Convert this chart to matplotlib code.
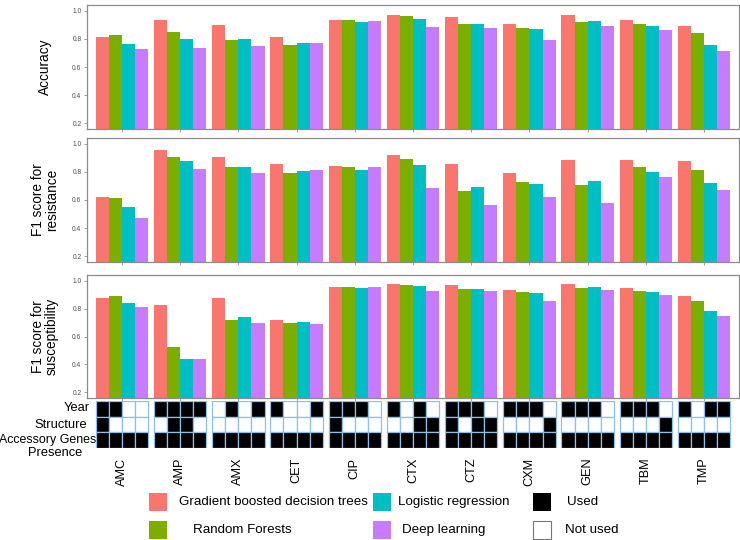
import matplotlib
matplotlib.use("Agg")
import matplotlib.pyplot as plt
from matplotlib.patches import Rectangle
import numpy as np

plt.rcParams['font.family'] = ['Liberation Sans', 'DejaVu Sans']

drugs = ['AMC', 'AMP', 'AMX', 'CET', 'CIP', 'CTX', 'CTZ', 'CXM', 'GEN', 'TBM', 'TMP']
models = ['Gradient boosted decision trees', 'Random Forests', 'Logistic regression', 'Deep learning']
colors = ['#F8766D', '#7CAE00', '#00BFC4', '#C77CFF']

acc_gb = [0.81, 0.936, 0.896, 0.81, 0.931, 0.972, 0.955, 0.908, 0.967, 0.936, 0.889]
acc_rf = [0.83, 0.85, 0.794, 0.757, 0.933, 0.96, 0.906, 0.877, 0.922, 0.903, 0.839]
acc_lr = [0.766, 0.80, 0.80, 0.768, 0.92, 0.943, 0.906, 0.867, 0.927, 0.889, 0.757]
acc_dl = [0.73, 0.735, 0.752, 0.77, 0.929, 0.884, 0.88, 0.794, 0.889, 0.863, 0.716]

res_gb = [0.619, 0.953, 0.906, 0.852, 0.84, 0.922, 0.854, 0.795, 0.887, 0.882, 0.877]
res_rf = [0.612, 0.908, 0.833, 0.79, 0.833, 0.889, 0.665, 0.727, 0.706, 0.833, 0.816]
res_lr = [0.548, 0.875, 0.833, 0.805, 0.814, 0.849, 0.689, 0.713, 0.736, 0.802, 0.72]
res_dl = [0.475, 0.823, 0.79, 0.812, 0.833, 0.685, 0.565, 0.621, 0.581, 0.762, 0.67]

sus_gb = [0.873, 0.824, 0.873, 0.72, 0.953, 0.976, 0.969, 0.932, 0.976, 0.95, 0.887]
sus_rf = [0.887, 0.527, 0.72, 0.697, 0.955, 0.969, 0.939, 0.915, 0.95, 0.927, 0.852]
sus_lr = [0.838, 0.44, 0.737, 0.704, 0.946, 0.96, 0.941, 0.908, 0.955, 0.915, 0.779]
sus_dl = [0.814, 0.44, 0.694, 0.687, 0.953, 0.925, 0.927, 0.857, 0.932, 0.899, 0.748]

# feature usage per drug, per model (GB, RF, LR, DL)
feat_year = [[1, 1, 0, 0], [1, 1, 1, 1], [0, 1, 0, 1], [1, 0, 0, 1], [1, 1, 1, 0], [1, 0, 1, 0],
             [1, 1, 1, 0], [1, 1, 1, 0], [1, 1, 1, 0], [1, 1, 1, 0], [1, 0, 1, 1]]
feat_structure = [[1, 0, 0, 0], [0, 1, 1, 0], [0, 0, 0, 0], [0, 0, 0, 0], [1, 0, 0, 0], [0, 0, 1, 1],
                  [1, 0, 1, 1], [0, 0, 0, 1], [0, 0, 0, 0], [0, 0, 0, 1], [0, 0, 0, 0]]
feat_genes = [[1, 1, 1, 1]] * 11
feature_rows = ['Year', 'Structure', 'Accessory Genes', 'Presence']

panels = [
    ('Accuracy', [acc_gb, acc_rf, acc_lr, acc_dl]),
    ('F1 score for\nresistance', [res_gb, res_rf, res_lr, res_dl]),
    ('F1 score for\nsusceptibility', [sus_gb, sus_rf, sus_lr, sus_dl]),
]

W, H = 740, 540
fig = plt.figure(figsize=(W / 100, H / 100), dpi=100)

def fx(px):
    return px / W

def fy(py):
    return 1 - py / H

left_px, right_px = 87, 739
panel_px = [(5, 129), (138, 262), (275, 398)]
x = np.arange(len(drugs))
bw = 0.225
frame_col = '#8c8c8c'

for (title, series), (top, bot) in zip(panels, panel_px):
    ax = fig.add_axes([fx(left_px), fy(bot), fx(right_px - left_px), (bot - top) / H])
    for m, vals in enumerate(series):
        ax.bar(x + (m - 1.5) * bw, vals, width=bw, color=colors[m], linewidth=0)
    ax.set_xlim(-0.6, len(drugs) - 0.4)
    ax.set_ylim(0.16, 1.04)
    ax.set_yticks([0.2, 0.4, 0.6, 0.8, 1.0])
    ax.set_yticklabels(['0.2', '0.4', '0.6', '0.8', '1.0'])
    ax.set_xticks(x)
    ax.set_xticklabels([])
    ax.tick_params(axis='both', colors=frame_col, labelcolor='#4d4d4d', labelsize=4.8,
                   length=2.5, width=0.6, pad=1.5)
    for s in ax.spines.values():
        s.set_color(frame_col)
        s.set_linewidth(0.9)
    fig.text(fx(45), fy((top + bot) / 2), title, rotation=90, ha='center', va='center',
             fontsize=9.8, linespacing=1.0)

# feature matrix
axm = fig.add_axes([fx(left_px), fy(448), fx(right_px - left_px), 47 / H])
rows = [feat_year, feat_structure, feat_genes]
edge = '#8DBFE8'
for r, feat in enumerate(rows):
    for m in range(4):
        vals = [f[m] for f in feat]
        axm.bar(x + (m - 1.5) * bw, [1] * len(drugs), bottom=2 - r, width=bw,
                color=['black' if v else 'white' for v in vals], edgecolor=edge, linewidth=0.9)
axm.set_xlim(-0.6, len(drugs) - 0.4)
axm.set_ylim(-0.02, 3.02)
axm.set_yticks([])
axm.set_xticks(x)
axm.set_xticklabels(drugs, rotation=90, fontsize=9.2)
axm.tick_params(axis='x', length=0, pad=7)
for s in axm.spines.values():
    s.set_visible(False)

fig.text(fx(77), fy(408), feature_rows[0], ha='center', va='center', fontsize=9.3)
fig.text(fx(61), fy(425), feature_rows[1], ha='center', va='center', fontsize=9.3)
fig.text(fx(47.5), fy(440), feature_rows[2], ha='center', va='center', fontsize=8.9)
fig.text(fx(55), fy(453), feature_rows[3], ha='center', va='center', fontsize=9.3)

# legend
lax = fig.add_axes([0, 0, 1, 1])
lax.set_xlim(0, W)
lax.set_ylim(H, 0)
lax.axis('off')
sq = 18
legend_items = [
    (149, 493, colors[0], None, models[0], 179),
    (149, 521, colors[1], None, models[1], 193),
    (373, 493, colors[2], None, models[2], 398),
    (373, 521, colors[3], None, models[3], 402),
    (533, 493, 'black', None, 'Used', 567),
    (533, 521, 'white', '#777777', 'Not used', 565),
]
for px, py, c, ec, label, tx in legend_items:
    lax.add_patch(Rectangle((px, py), sq, sq, facecolor=c,
                            edgecolor=ec if ec else 'none', linewidth=0.8))
    lax.text(tx, py + sq / 2, label, ha='left', va='center', fontsize=9.6)

fig.savefig('out.png', dpi=100)
